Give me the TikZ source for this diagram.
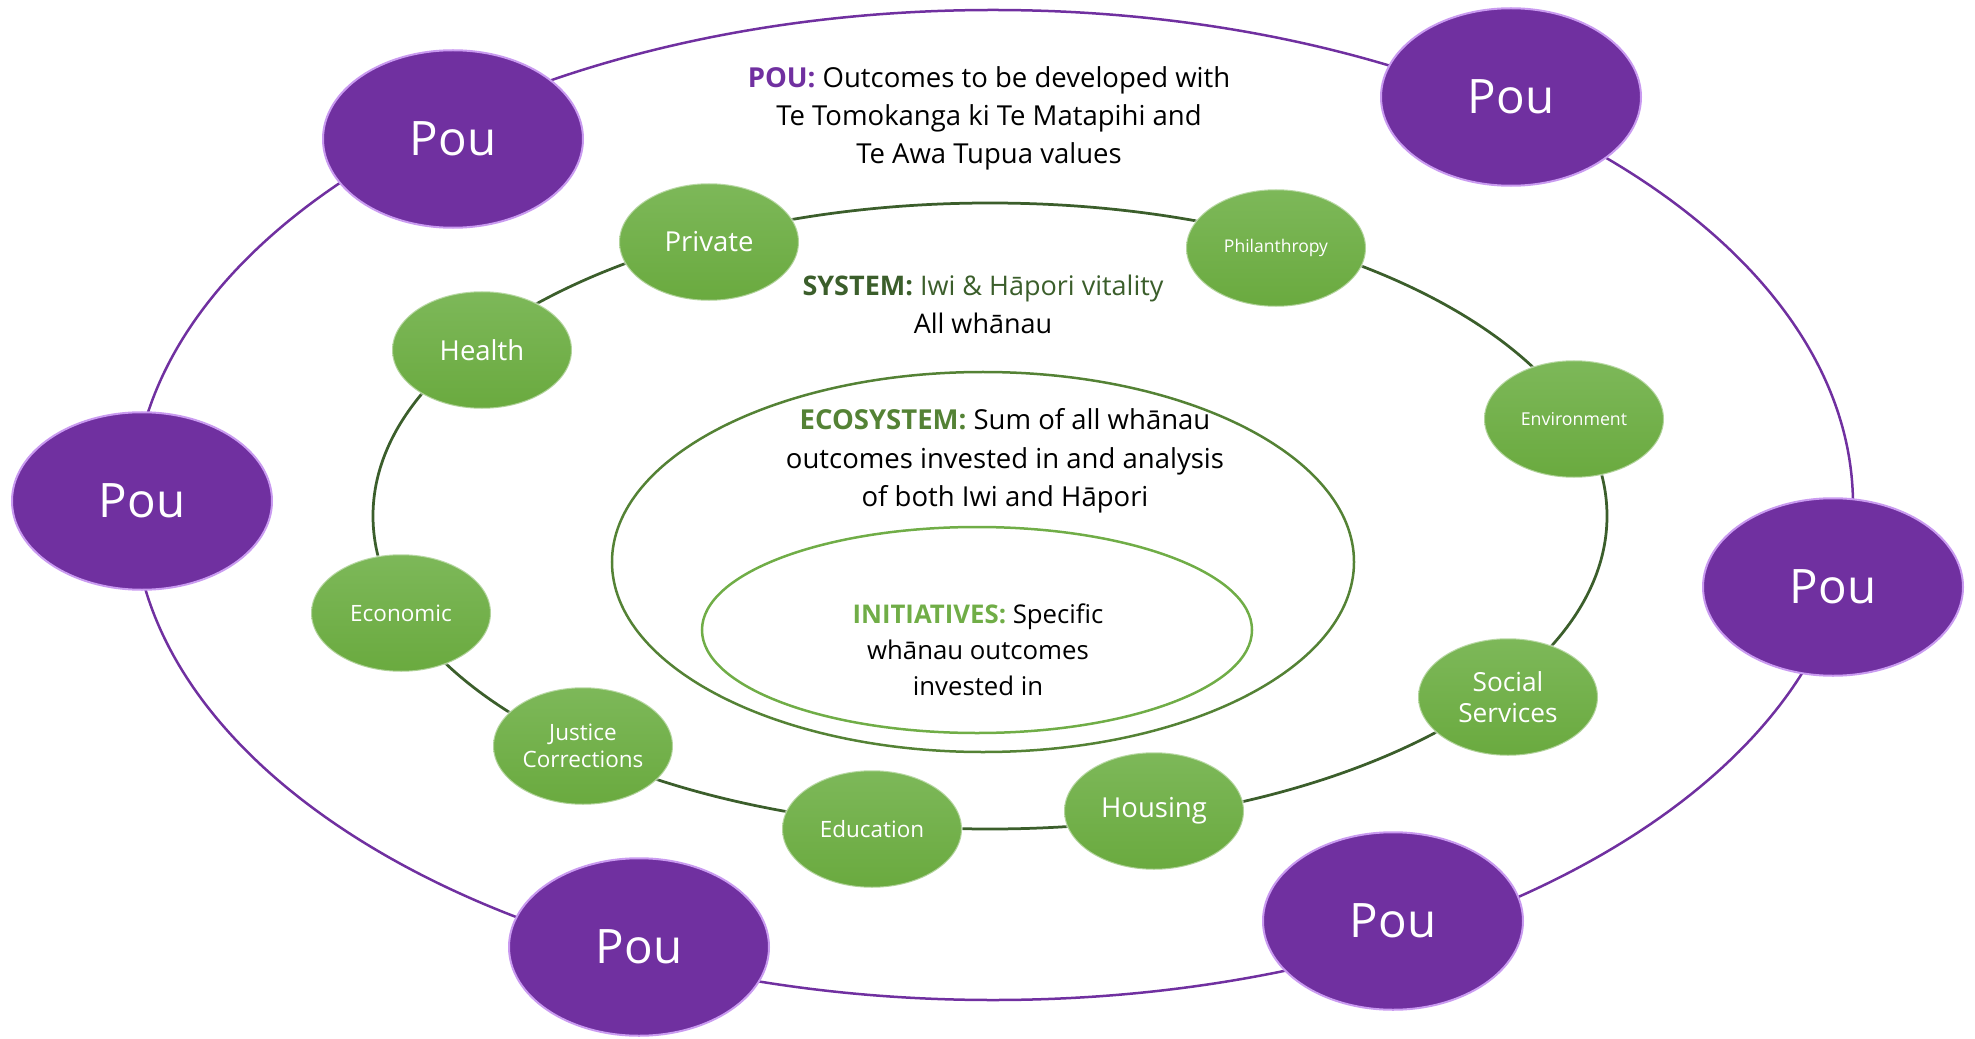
\documentclass[tikz,border=0pt]{standalone}
\usepackage{fontspec}
\setmainfont{Open Sans}
\usetikzlibrary{shapes.geometric}

\definecolor{pouPurple}{HTML}{7030A0}
\definecolor{pouRim}{HTML}{C99AF0}
\definecolor{leafGreen}{HTML}{6AAA3F}
\definecolor{leafLight}{HTML}{7DB859}
\definecolor{sysGreen}{HTML}{3B5E2B}
\definecolor{ecoGreen}{HTML}{548235}
\definecolor{initGreen}{HTML}{70AD47}

\begin{document}
\begin{tikzpicture}[x=0.4pt,y=-0.4pt,
    pou/.style={ellipse,minimum width=104pt,minimum height=71pt,inner sep=0pt,
      fill=pouPurple,draw=pouRim,line width=0.8pt,text=white,
      font=\fontsize{19}{23}\selectfont},
    sector/.style={ellipse,minimum width=72pt,minimum height=47pt,inner sep=0pt,
      top color=leafLight,bottom color=leafGreen,draw=white,draw opacity=0.45,
      line width=0.8pt,text=white,align=center},
    label/.style={align=center,text=black}]

  \useasboundingbox (0,0) rectangle (1975,1039);

  \draw[pouPurple,line width=1pt] (993,505) ellipse [x radius=344pt,y radius=198pt];
  \draw[sysGreen,line width=1.1pt] (990,516) ellipse [x radius=246.8pt,y radius=125.2pt];
  \draw[ecoGreen,line width=1pt] (983,562) ellipse [x radius=148.4pt,y radius=76pt];
  \draw[initGreen,line width=1pt] (977,630) ellipse [x radius=110pt,y radius=41.2pt];

  \node[pou] (pouNW) at (453,139)  {Pou};
  \node[pou] (pouNE) at (1511,97)  {Pou};
  \node[pou] (pouW)  at (142,501)  {Pou};
  \node[pou] (pouE)  at (1833,587) {Pou};
  \node[pou] (pouSW) at (639,947)  {Pou};
  \node[pou] (pouSE) at (1393,921) {Pou};

  \node[sector,font=\fontsize{11}{13}\selectfont] (private) at (709,242) {Private};
  \node[sector,font=\fontsize{7}{9}\selectfont] (philanthropy) at (1276,248) {Philanthropy};
  \node[sector,font=\fontsize{11}{13}\selectfont] (health) at (482,350) {Health};
  \node[sector,font=\fontsize{7.1}{9}\selectfont] (environment) at (1574,419) {Environment};
  \node[sector,font=\fontsize{9}{11}\selectfont] (economic) at (401,613) {Economic};
  \node[sector,font=\fontsize{9}{10.7}\selectfont] (justice) at (583,746) {Justice\\Corrections};
  \node[sector,font=\fontsize{9}{11}\selectfont] (education) at (872,829) {Education};
  \node[sector,font=\fontsize{11}{13}\selectfont] (housing) at (1154,811) {Housing};
  \node[sector,font=\fontsize{10.5}{12.3}\selectfont] (social) at (1508,697) {Social\\Services};

  \node[label,font=\fontsize{11}{15.2}\selectfont] (pouText) at (989,118)
    {\textcolor{pouPurple}{\textbf{POU:}} Outcomes to be developed with\\
     Te Tomokanga ki Te Matapihi and\\Te Awa Tupua values};
  \node[label,font=\fontsize{10.8}{15.2}\selectfont] (systemText) at (983,304)
    {\textcolor{sysGreen}{\textbf{SYSTEM:} Iwi \& Hāpori vitality}\\All whānau};
  \node[label,font=\fontsize{11}{15.4}\selectfont] (ecoText) at (1005,461)
    {\textcolor{ecoGreen}{\textbf{ECOSYSTEM:}} Sum of all whānau\\
     outcomes invested in and analysis\\of both Iwi and Hāpori};
  \node[label,font=\fontsize{10.3}{14.5}\selectfont] (initText) at (978,650)
    {\textcolor{initGreen}{\textbf{INITIATIVES:}} Specific\\
     whānau outcomes\\invested in};
\end{tikzpicture}
\end{document}
